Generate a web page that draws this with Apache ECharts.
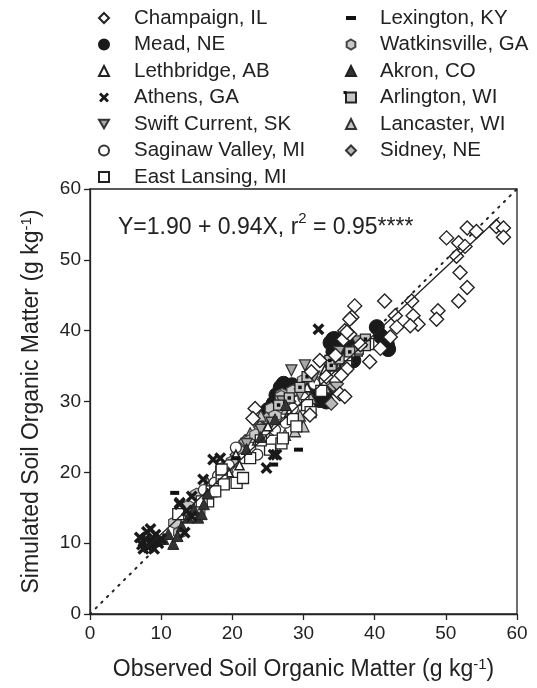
<!DOCTYPE html>
<html><head><meta charset="utf-8">
<script src="https://cdn.jsdelivr.net/npm/echarts@6/dist/echarts.min.js"></script>
<style>html,body{margin:0;padding:0;background:#fff}#c{width:537px;height:688px}</style>
</head><body><div id="c"></div>
<script>
// ---- data (observed x, simulated y) in g/kg ----
const champaign = [[53.0,54.5],[54.3,54.0],[50.1,53.1],[51.8,52.4],[52.7,51.9],[57.1,54.7],[58.1,54.5],[58.1,53.2],[51.5,50.5],[52.0,48.2],[53.0,46.1],[51.8,44.2],[48.9,42.8],[48.7,41.6],[45.4,42.1],[46.1,40.9],[45.2,44.2],[41.4,44.2],[42.9,42.1],[43.1,40.5],[42.2,39.1],[37.2,43.5],[36.8,41.9],[45.0,40.7],[35.8,40.0],[35.6,38.8],[39.3,35.6],[36.5,39.5],[32.3,35.8],[36.1,34.6],[33.2,33.5],[35.1,31.1],[35.8,30.7],[30.9,28.1],[23.2,29.0],[22.9,27.6],[36.5,41.6],[31.1,34.2],[35.3,33.7],[38.0,38.0],[34.5,36.5],[40.8,37.5],[36.1,39.8]];
const mead = [[34.2,38.8],[34.7,38.1],[35.3,37.7],[36.1,36.5],[37.0,35.8],[41.7,38.1],[41.9,37.4],[27.2,32.5],[29.0,31.8],[31.4,31.6],[32.8,30.7],[33.2,30.0],[32.3,30.2],[26.2,30.9],[25.8,29.7],[28.1,29.0],[25.3,28.1],[33.5,31.8],[36.5,38.6],[40.3,40.5],[41.7,37.9],[34.4,38.8],[35.1,37.4],[34.2,37.0],[30.0,31.5],[27.8,31.0],[24.5,27.5],[25.0,28.8],[26.8,32.0],[28.4,32.3],[30.6,31.9],[31.9,31.0],[33.8,38.3],[35.7,37.1],[36.6,35.9],[40.9,39.2]];
const lethbridge = [[13.0,14.0],[17.0,17.5],[19.5,20.0],[21.0,21.0],[23.5,24.5],[25.0,26.5],[28.0,28.5],[30.5,32.0],[33.0,34.5],[20.5,22.5]];
const athens = [[7.3,9.8],[7.8,10.6],[8.2,9.4],[8.7,10.2],[9.2,11.2],[8.0,11.6],[7.0,10.8],[9.6,10.0],[8.5,12.0],[10.0,10.6],[9.0,9.2],[7.5,9.2],[13.3,11.5],[12.6,15.7],[14.3,16.6],[14.3,13.8],[18.3,22.0],[24.8,20.6],[15.9,19.0],[17.3,21.8],[12.6,15.5],[13.6,14.6],[26.2,22.5],[25.8,22.5],[32.1,40.2]];
const swiftCurrent = [[28.3,34.4],[30.2,35.1],[27.0,30.0],[25.5,27.0],[29.5,31.0],[31.5,33.5],[33.5,35.5],[24.0,26.0],[22.0,24.0],[35.0,37.0],[37.5,38.5]];
const saginaw = [[16.0,17.5],[18.0,19.5],[19.5,21.0],[21.5,22.0],[22.5,23.5],[24.5,25.5],[26.0,26.0],[27.5,27.0],[28.5,29.0],[30.0,30.5],[31.5,32.5],[33.0,33.0],[34.0,35.0],[36.0,36.0],[20.5,23.5],[23.5,22.5],[17.5,18.5]];
const eastLansing = [[12.4,14.1],[16.6,15.9],[17.1,17.3],[18.5,19.2],[18.5,20.4],[20.6,18.5],[21.5,19.2],[18.8,18.3],[17.6,17.3],[15.7,15.9],[25.3,23.2],[26.9,24.1],[27.1,24.8],[22.5,22.0],[24.0,24.5],[28.5,27.5],[30.5,29.5],[32.5,31.5],[34.5,33.5],[37.5,37.2],[39.1,38.1],[36.0,35.0],[29.0,26.5],[31.0,28.5]];
const lexington = [[11.9,17.1],[29.3,23.2],[25.8,21.1],[20.5,22.0]];
const watkinsville = [[12.6,11.5],[11.9,12.9],[15.0,16.9],[15.3,14.5],[17.0,18.0],[18.5,20.5],[20.0,21.5],[21.0,23.0],[22.5,24.5],[24.0,26.0],[25.5,29.0],[27.0,31.0],[28.5,31.5],[30.0,33.0],[26.0,28.0],[13.8,15.2],[19.2,19.8],[23.3,25.3],[26.9,30.7]];
const akron = [[10.3,10.6],[11.7,9.9],[12.9,12.4],[13.8,13.6],[15.2,13.6],[15.7,14.1],[14.6,14.8],[11.0,11.3],[9.5,10.3],[12.3,11.0],[16.5,17.0],[16.0,15.5],[22.0,23.3],[26.0,27.5],[27.5,29.5],[24.0,25.0]];
const arlington = [[38.7,38.8],[37.7,37.4],[38.7,37.9],[33.7,35.8],[33.9,35.1],[36.5,37.0],[30.5,33.5],[29.5,32.0],[35.0,36.0],[28.0,30.5],[26.5,29.5]];
const lancaster = [[27.9,29.3],[28.8,25.8],[27.6,29.0],[27.4,25.3],[29.5,28.0],[30.0,26.5],[25.0,26.0],[22.5,25.5],[31.0,30.5],[33.0,32.0],[24.0,28.0],[35.0,34.0],[16.5,18.5],[18.0,20.0]];
const sidney = [[23.9,26.4],[22.0,24.4],[20.6,22.5],[19.9,21.3],[25.3,27.2],[26.2,27.6],[34.2,32.3],[33.9,29.7],[24.8,27.6],[34.7,32.5],[30.4,30.9],[25.5,28.8],[21.8,24.4],[28.0,30.0],[31.5,33.0],[36.0,35.5],[37.5,37.5],[16.0,17.0],[18.0,19.0],[13.5,14.0]];
const fitLine = [[8.0,9.4],[57.5,56.0]];
const oneToOne = [[0,0],[60,60]];
const ticks = [0,10,20,30,40,50,60];
const legendCol1 = ['Champaign, IL','Mead, NE','Lethbridge, AB','Athens, GA','Swift Current, SK','Saginaw Valley, MI','East Lansing, MI'];
const legendCol2 = ['Lexington, KY','Watkinsville, GA','Akron, CO','Arlington, WI','Lancaster, WI','Sidney, NE'];

const SYM = {
  x: 'path://M2,0L5,3L8,0L10,2L7,5L10,8L8,10L5,7L2,10L0,8L3,5L0,2Z',
  inv: 'path://M0,0L10,0L5,8.66Z',
  dash: 'path://M0,0L10,0L10,4L0,4Z',
  hex: 'path://M5,0L9.33,2.5L9.33,7.5L5,10L0.67,7.5L0.67,2.5Z'
};
function sc(name, data, symbol, size, fill, border, bw, z) {
  return { type:'scatter', name, data, symbol, symbolSize:size, z: z||2,
    itemStyle:{ color:fill, borderColor:border, borderWidth:bw, opacity:1 },
    emphasis:{ disabled:true }, silent:true };
}
const FONT = 'Liberation Sans, Arial, Helvetica, sans-serif';
const series = [
  {type:'line', data: oneToOne, symbol:'none', lineStyle:{color:'#222', width:2, type:[1.5,6.5], cap:'round'}, silent:true, z:1},
  sc('Mead, NE', mead, 'circle', 15, '#1a1a1a', '#1a1a1a', 1),
  sc('Sidney, NE', sidney, 'diamond', 13, '#b8b8b8', '#333', 1.3),
  sc('Lancaster, WI', lancaster, 'triangle', 11, '#c4c4c4', '#333', 1.3),
  sc('Watkinsville, GA', watkinsville, SYM.hex, 12, '#c8c8c8', '#444', 1.2),
  sc('Saginaw Valley, MI', saginaw, 'circle', 11, '#fff', '#333', 1.3),
  sc('Swift Current, SK', swiftCurrent, SYM.inv, 11, '#a8a8a8', '#333', 1.3),
  sc('Lethbridge, AB', lethbridge, 'triangle', 9, '#fff', '#222', 1.6),
  sc('East Lansing, MI', eastLansing, 'rect', 11, '#fff', '#222', 1.3),
  sc('Arlington, WI', arlington, 'rect', 10, '#c4c4c4', '#222', 1.3),
  sc('Arlington dot', arlington, 'rect', 3.5, '#111', '#111', 0),
  sc('Akron, CO', akron, 'triangle', 11, '#333', '#222', 1),
  sc('Champaign, IL', champaign, 'diamond', 14, '#fff', '#222', 1.4),
  sc('Lexington, KY', lexington, SYM.dash, [9,4], '#111', '#111', 0),
  sc('Athens, GA', athens, SYM.x, 12, '#1a1a1a', '#1a1a1a', 0),
  {type:'line', data: fitLine, symbol:'none', lineStyle:{color:'#222', width:1.3}, silent:true, z:3}
];
const legendBase = {
  orient:'vertical', itemWidth:10, itemHeight:10, itemGap:4.5, selectedMode:false,
  textStyle:{ fontFamily:FONT, fontSize:20.5, color:'#222', lineHeight:22 }
};
const chart = echarts.init(document.getElementById('c'), null, {renderer:'canvas'});
chart.setOption({
  animation:false,
  backgroundColor:'#fff',
  grid:{ left:90, right:20, top:189, bottom:71, show:true, borderColor:'#222', borderWidth:1.3, containLabel:false },
  legend:[
    Object.assign({}, legendBase, { left:93, top:2, data:legendCol1,
      formatter: n => '{g|}' + n, textStyle:Object.assign({}, legendBase.textStyle, {rich:{g:{width:20}}}) }),
    Object.assign({}, legendBase, { left:340, top:2, data:legendCol2,
      formatter: n => '{g|}' + n, textStyle:Object.assign({}, legendBase.textStyle, {rich:{g:{width:19}}}) })
  ],
  xAxis:{ type:'value', min:ticks[0], max:ticks[ticks.length-1], interval:10,
    axisLine:{show:true, onZero:false, lineStyle:{color:'#222', width:1.3}},
    axisTick:{show:true, inside:false, length:6, lineStyle:{color:'#222', width:1.3}},
    splitLine:{show:false},
    axisLabel:{ fontFamily:FONT, fontSize:19, color:'#222', margin:10 },
    name:'Observed Soil Organic Matter (g kg{s|-1})', nameLocation:'middle', nameGap:43,
    nameTextStyle:{ fontFamily:FONT, fontSize:23, color:'#222', lineHeight:26,
      rich:{ s:{ fontFamily:FONT, fontSize:15, color:'#222', verticalAlign:'top', lineHeight:15 } } }
  },
  yAxis:{ type:'value', min:ticks[0], max:ticks[ticks.length-1], interval:10,
    axisLine:{show:true, onZero:false, lineStyle:{color:'#222', width:1.3}},
    axisTick:{show:true, inside:false, length:6, lineStyle:{color:'#222', width:1.3}},
    splitLine:{show:false},
    axisLabel:{ fontFamily:FONT, fontSize:19, color:'#222', margin:9 },
    name:'Simulated Soil Organic Matter (g kg{s|-1})', nameLocation:'middle', nameGap:45, nameRotate:90,
    nameTextStyle:{ fontFamily:FONT, fontSize:23, color:'#222', lineHeight:26,
      rich:{ s:{ fontFamily:FONT, fontSize:15, color:'#222', verticalAlign:'top', lineHeight:15 } } }
  },
  graphic:[
    { type:'text', left:118, top:211, silent:true,
      style:{ text:'{a|Y=1.90 + 0.94X, r}{s|2}{a| = 0.95****}', fill:'#222',
        rich:{ a:{fontFamily:FONT, fontSize:23, fill:'#222', lineHeight:28, verticalAlign:'bottom'},
               s:{fontFamily:FONT, fontSize:15, fill:'#222', verticalAlign:'top', lineHeight:15} } } },
    { type:'rect', silent:true, z:100, shape:{ x:343.5, y:91, width:3, height:3 }, style:{ fill:'#111' } }
  ],
  series
});
</script></body></html>
